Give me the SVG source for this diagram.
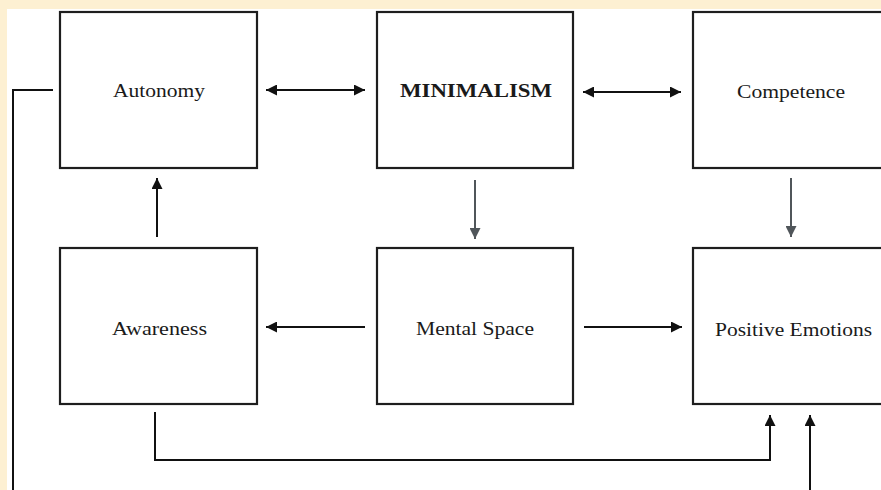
<svg xmlns="http://www.w3.org/2000/svg" width="881" height="490" viewBox="0 0 881 490">
<defs>
<style>
.box{fill:#fff;stroke:#1e1e1e;stroke-width:2.2}
.lbl{font-family:"Liberation Serif","Times New Roman",serif;font-size:19px;fill:#1a1a1a}
.bold{font-weight:bold}
.con{fill:none;stroke:#111;stroke-width:2}
.gray{stroke:#50565a}
</style>
<marker id="ah" viewBox="0 0 10 10" refX="10" refY="5" markerWidth="12" markerHeight="11" markerUnits="userSpaceOnUse" orient="auto-start-reverse">
<path d="M0,0 L10,5 L0,10 Z" fill="#111"/>
</marker>
<marker id="ahg" viewBox="0 0 10 10" refX="10" refY="5" markerWidth="12" markerHeight="11" markerUnits="userSpaceOnUse" orient="auto">
<path d="M0,0 L10,5 L0,10 Z" fill="#50565a"/>
</marker>
</defs>
<rect x="0" y="0" width="881" height="490" fill="#fdf0d2"/>
<rect x="7" y="9" width="874" height="481" fill="#fff"/>
<g id="autonomy"><rect class="box" x="60" y="12" width="197" height="156"/><text class="lbl" x="113" y="97" textLength="92" lengthAdjust="spacingAndGlyphs">Autonomy</text></g>
<g id="minimalism"><rect class="box" x="377" y="12" width="196" height="156"/><text class="lbl bold" x="400" y="97" textLength="152" lengthAdjust="spacingAndGlyphs">MINIMALISM</text></g>
<g id="competence"><rect class="box" x="693" y="12" width="200" height="156"/><text class="lbl" x="737" y="98" textLength="108" lengthAdjust="spacingAndGlyphs">Competence</text></g>
<g id="awareness"><rect class="box" x="60" y="248" width="197" height="156"/><text class="lbl" x="112" y="335" textLength="95" lengthAdjust="spacingAndGlyphs">Awareness</text></g>
<g id="mental-space"><rect class="box" x="377" y="248" width="196" height="156"/><text class="lbl" x="416" y="335" textLength="118" lengthAdjust="spacingAndGlyphs">Mental Space</text></g>
<g id="positive-emotions"><rect class="box" x="693" y="248" width="200" height="156"/><text class="lbl" x="715" y="336" textLength="157" lengthAdjust="spacingAndGlyphs">Positive Emotions</text></g>
<g id="connectors">
<line class="con" x1="266" y1="90" x2="365" y2="90" marker-start="url(#ah)" marker-end="url(#ah)"/>
<line class="con" x1="583" y1="92" x2="681" y2="92" marker-start="url(#ah)" marker-end="url(#ah)"/>
<line class="con" x1="157" y1="237" x2="157" y2="178" marker-end="url(#ah)"/>
<line class="con gray" x1="475" y1="180" x2="475" y2="239" marker-end="url(#ahg)"/>
<line class="con gray" x1="791" y1="178" x2="791" y2="237" marker-end="url(#ahg)"/>
<line class="con" x1="365" y1="327" x2="266" y2="327" marker-end="url(#ah)"/>
<line class="con" x1="584" y1="327" x2="682" y2="327" marker-end="url(#ah)"/>
<polyline class="con" points="155,412 155,460 770,460 770,415" marker-end="url(#ah)"/>
<polyline class="con" points="810,490 810,415" marker-end="url(#ah)"/>
<polyline class="con" points="53,90 13,90 13,490"/>
</g>
</svg>
